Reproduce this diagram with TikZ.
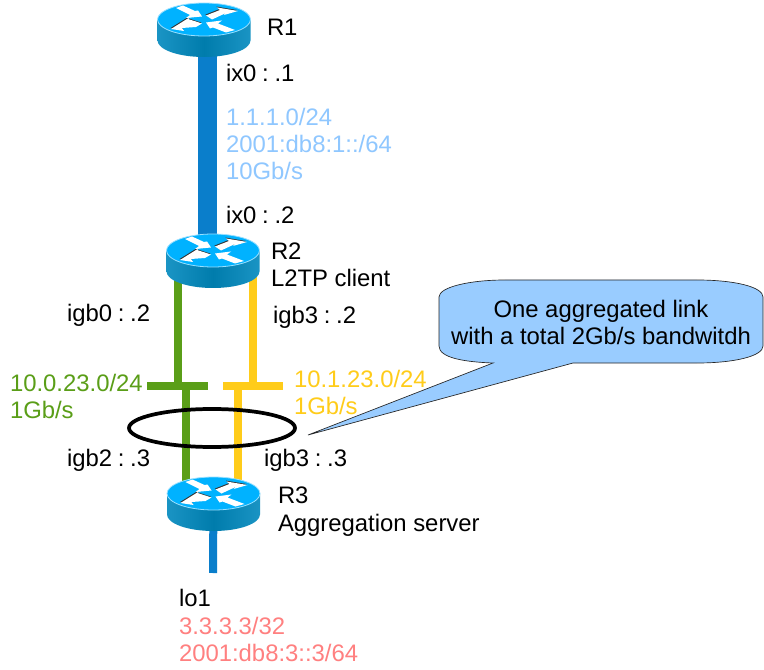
\documentclass[tikz,border=0pt]{standalone}
\usepackage{fontspec}
\usetikzlibrary{shapes.geometric}
\setmainfont{Liberation Sans}
\definecolor{linkblue}{HTML}{0A7ECB}
\definecolor{netblue}{HTML}{8FC7FF}
\definecolor{netgreen}{HTML}{5A9E18}
\definecolor{netyellow}{HTML}{FFCC1A}
\definecolor{netpink}{HTML}{FF8080}
\definecolor{routertop}{HTML}{00B2FF}
\definecolor{routerside}{HTML}{007CAC}
\definecolor{routeredge}{HTML}{1A94C4}
\definecolor{callfill}{HTML}{99CCFF}
\newcommand{\routerTR}{(2,-4) -- (16,-9.5) -- (13,-12) -- (34,-8.5) -- (20,-4.5) -- (22,-6.5) -- (8,0) -- cycle}
\newcommand{\routerBL}{(-2,4) -- (-16,-0.5) -- (-13,-3) -- (-33,9.5) -- (-20,11.5) -- (-22,8.5) -- (-8,7.5) -- cycle}
\newcommand{\routerTL}{(-28,-11.5) -- (-21,-14) -- (-9,-8.5) -- (-6,-9) -- (-2,-3) -- (-18,-1.5) -- (-14,-4.5) -- cycle}
\newcommand{\routerBR}{(31,10.5) -- (22,13) -- (9,8) -- (6,9) -- (2,3) -- (18,1) -- (14,4) -- cycle}
\newcommand{\tsp}{\hspace{4.3pt}}
\tikzset{
  lbl/.style={anchor=base west,inner sep=0pt,outer sep=0pt,font=\fontsize{17.9pt}{20pt}\selectfont},
  lblb/.style={lbl,text=netblue},
  lblg/.style={lbl,text=netgreen},
  lbly/.style={lbl,text=netyellow},
  lblp/.style={lbl,text=netpink},
  calltext/.style={anchor=base,inner sep=0pt,outer sep=0pt,font=\fontsize{17.9pt}{20pt}\selectfont},
  link/.style={line width=6pt},
  arrowwhite/.style={fill=white,draw=none},
  arrowdark/.style={fill=black!80,draw=none},
  ringnode/.style={draw=black,line width=2.8pt,shape=ellipse,inner sep=0pt,minimum width=124.5pt,minimum height=28.5pt},
  router/.pic={
    \path[left color=routeredge,right color=routeredge,middle color=routerside]
      (-46.5,0) -- (-46.5,21) arc[start angle=180,end angle=0,x radius=46.5,y radius=16.5] -- (46.5,0) -- cycle;
    \path[fill=routertop,draw=white!60!routertop,line width=0.6pt] (0,0) ellipse[x radius=46.5,y radius=16.5];
    \begin{scope}[shift={(-0.6,-0.9)}]
      \fill[arrowdark] \routerTR;
      \fill[arrowdark] \routerBL;
    \end{scope}
    \fill[arrowwhite] \routerTL;
    \fill[arrowwhite] \routerBR;
    \fill[arrowwhite] \routerTR;
    \fill[arrowwhite] \routerBL;
  }
}
\begin{document}
\begin{tikzpicture}[x=0.75pt,y=-0.75pt]
\useasboundingbox[fill=white] (0,0) rectangle (764,670);

\coordinate (r1) at (204,19.5);
\coordinate (r2) at (213,250.5);
\coordinate (r3) at (213.5,493.5);
\coordinate (bluetop) at (207.5,20);
\coordinate (bluebot) at (207.5,250);
\coordinate (greenbusL) at (147,386);
\coordinate (greenbusR) at (208,386);
\coordinate (yellowbusL) at (223,386);
\coordinate (yellowbusR) at (283,386);
\coordinate (greenup) at (177.5,270);
\coordinate (greenbusup) at (177.5,386);
\coordinate (greenbusdn) at (185.5,386);
\coordinate (greendn) at (185.5,490);
\coordinate (yellowup) at (253,270);
\coordinate (yellowbusup) at (253,386);
\coordinate (yellowbusdn) at (238,386);
\coordinate (yellowdn) at (238,490);
\coordinate (lostem) at (213,573);

% links
\draw[linkblue,line width=14.5pt] (bluetop) -- (bluebot);
\draw[linkblue,link] (r3) -- (lostem);
\draw[netgreen,link] (greenup) -- (greenbusup);
\draw[netgreen,link] (greenbusdn) -- (greendn);
\draw[netgreen,link] (greenbusL) -- (greenbusR);
\draw[netyellow,link] (yellowup) -- (yellowbusup);
\draw[netyellow,link] (yellowbusdn) -- (yellowdn);
\draw[netyellow,link] (yellowbusL) -- (yellowbusR);

% routers
\pic at (r1) {router};
\pic at (r2) {router};
\pic at (r3) {router};

% aggregation ring
\node[ringnode] (ring) at (212,428) {};

% callout
\coordinate (calltip) at (308,435);
\draw[fill=callfill,draw=black!85,line width=0.5pt]
  (439,297) .. controls (439,287) and (470,280) .. (505,280) -- (697,280)
  .. controls (735,280) and (763,287) .. (763,297) -- (763,346)
  .. controls (763,356) and (735,363) .. (697,363) -- (573,363) -- (calltip) -- (493,363)
  .. controls (465,362) and (439,358) .. (439,346) -- cycle;
\node[calltext] (calla) at (601,317.5) {One aggregated link};
\node[calltext] (callb) at (601,344.5) {with a total 2Gb/s bandwitdh};

% labels
\node[lbl] (tr1) at (267,36) {R1};
\node[lbl] (tix1) at (226,82) {ix0\tsp:\tsp.1};
\node[lblb] (tn1) at (226,126) {1.1.1.0/24};
\node[lblb] (tn2) at (226,153) {2001:db8:1::/64};
\node[lblb] (tn3) at (226,180) {10Gb/s};
\node[lbl] (tix2) at (226,224) {ix0\tsp:\tsp.2};
\node[lbl] (tr2) at (271,260) {R2};
\node[lbl] (tr2b) at (271,287) {L2TP client};
\node[lbl] (tigb0) at (67,322) {igb0\tsp:\tsp.2};
\node[lbl] (tigb3) at (273,324) {igb3\tsp:\tsp.2};
\node[lblg] (tg1) at (10,391.5) {10.0.23.0/24};
\node[lblg] (tg2) at (10,418.5) {1Gb/s};
\node[lbly] (ty1) at (294,387) {10.1.23.0/24};
\node[lbly] (ty2) at (294,414) {1Gb/s};
\node[lbl] (tigb2) at (67,466) {igb2\tsp:\tsp.3};
\node[lbl] (tigb3b) at (264,466) {igb3\tsp:\tsp.3};
\node[lbl] (tr3) at (278,503) {R3};
\node[lbl] (tr3b) at (278,531) {Aggregation server};
\node[lbl] (tlo) at (179,606) {lo1};
\node[lblp] (tp1) at (179,634) {3.3.3.3/32};
\node[lblp] (tp2) at (179,661) {2001:db8:3::3/64};
\end{tikzpicture}
\end{document}
